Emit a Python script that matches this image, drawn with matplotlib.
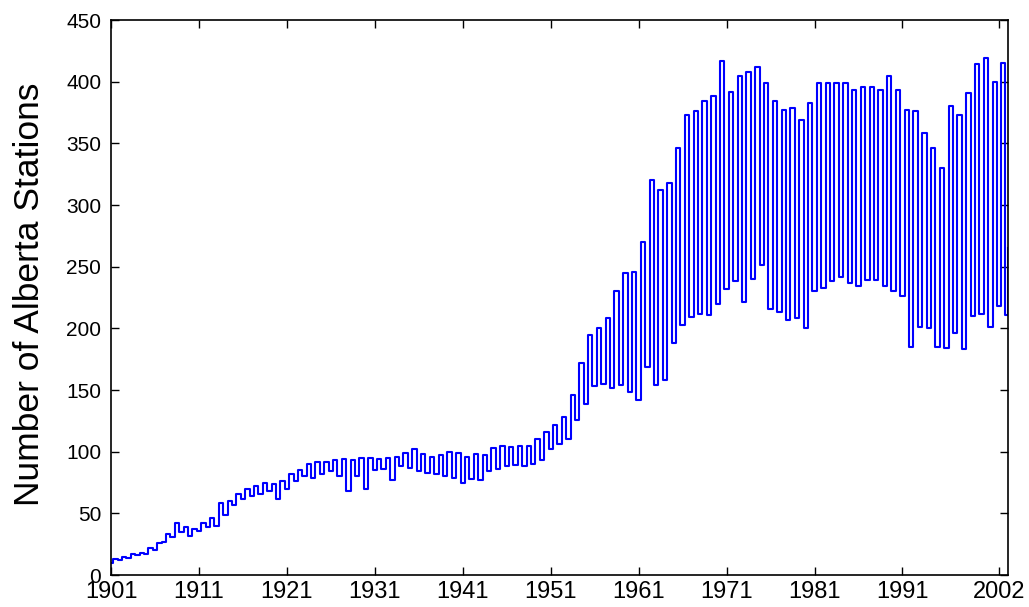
import matplotlib
matplotlib.use("Agg")
import matplotlib.pyplot as plt
import numpy as np

# Yearly winter low (Jan) and summer high (Jul)
years = list(range(1901, 2003))
winter_low = [
    10, 12, 14, 16, 17, 20, 27, 31, 35, 32,
    36, 39, 40, 49, 57, 62, 64, 66, 68, 62,
    70, 76, 80, 79, 82, 84, 80, 68, 80, 70,
    85, 86, 77, 88, 87, 84, 83, 82, 80, 79,
    75, 78, 77, 84, 86, 88, 89, 88, 90, 93,
    102, 106, 110, 126, 139, 153, 155, 152, 154, 148,
    142, 169, 154, 158, 188, 203, 209, 212, 211, 220,
    232, 238, 221, 240, 251, 216, 213, 207, 208, 200,
    230, 233, 238, 242, 237, 234, 239, 239, 234, 230,
    226, 185, 201, 200, 185, 184, 196, 183, 210, 212,
    201, 218,
]
summer_high = [
    13, 15, 17, 18, 22, 26, 33, 42, 39, 37,
    42, 46, 58, 60, 66, 70, 72, 75, 74, 76,
    82, 85, 90, 92, 92, 93, 94, 93, 95, 95,
    94, 95, 96, 99, 102, 98, 96, 97, 100, 99,
    96, 98, 97, 103, 105, 104, 105, 105, 110, 116,
    122, 128, 146, 172, 195, 200, 208, 230, 245, 246,
    270, 320, 312, 318, 346, 373, 376, 384, 388, 417,
    392, 405, 408, 412, 399, 384, 377, 379, 369, 383,
    399, 399, 399, 399, 393, 396, 396, 393, 405, 393,
    377, 376, 358, 346, 330, 380, 373, 391, 414, 419,
    400, 415,
]
# last months of the record (late 2002)
tail_time = [2002.92, 2003.0]
tail_value = [211, 265]

year_ticks = [1901, 1911, 1921, 1931, 1941, 1951, 1961, 1971, 1981, 1991, 2002]

# interleave lows and highs into one time series
t = []
v = []
for yr, lo, hi in zip(years, winter_low, summer_high):
    t += [yr, yr + 0.5]
    v += [lo, hi]
t += tail_time
v += tail_value

plt.rcParams["font.family"] = ["Liberation Sans", "DejaVu Sans"]

fig = plt.figure(figsize=(10.29, 6.07), dpi=100, facecolor="white")
ax = fig.add_axes([0.1079, 0.0527, 0.8717, 0.9143])

ax.plot(t, v, color="#0000ff", linewidth=1.5, drawstyle="steps-mid")

ax.set_xlim(1901, 2003)
ax.set_ylim(0, 450)
ax.set_xticks(year_ticks)
ax.set_yticks(np.arange(0, 451, 50))

ax.tick_params(direction="in", length=5.5, width=1, top=True, right=True,
               colors="black")
ax.tick_params(axis="x", pad=4.5, labelsize=17)
ax.tick_params(axis="y", pad=7, labelsize=15)
for spine in ax.spines.values():
    spine.set_linewidth(1.2)
    spine.set_color("black")

ax.set_ylabel("Number of Alberta Stations", fontsize=25.5)
ax.yaxis.set_label_coords(-0.072, 0.505)

fig.savefig("out.png", dpi=100, facecolor="white")
plt.close(fig)
